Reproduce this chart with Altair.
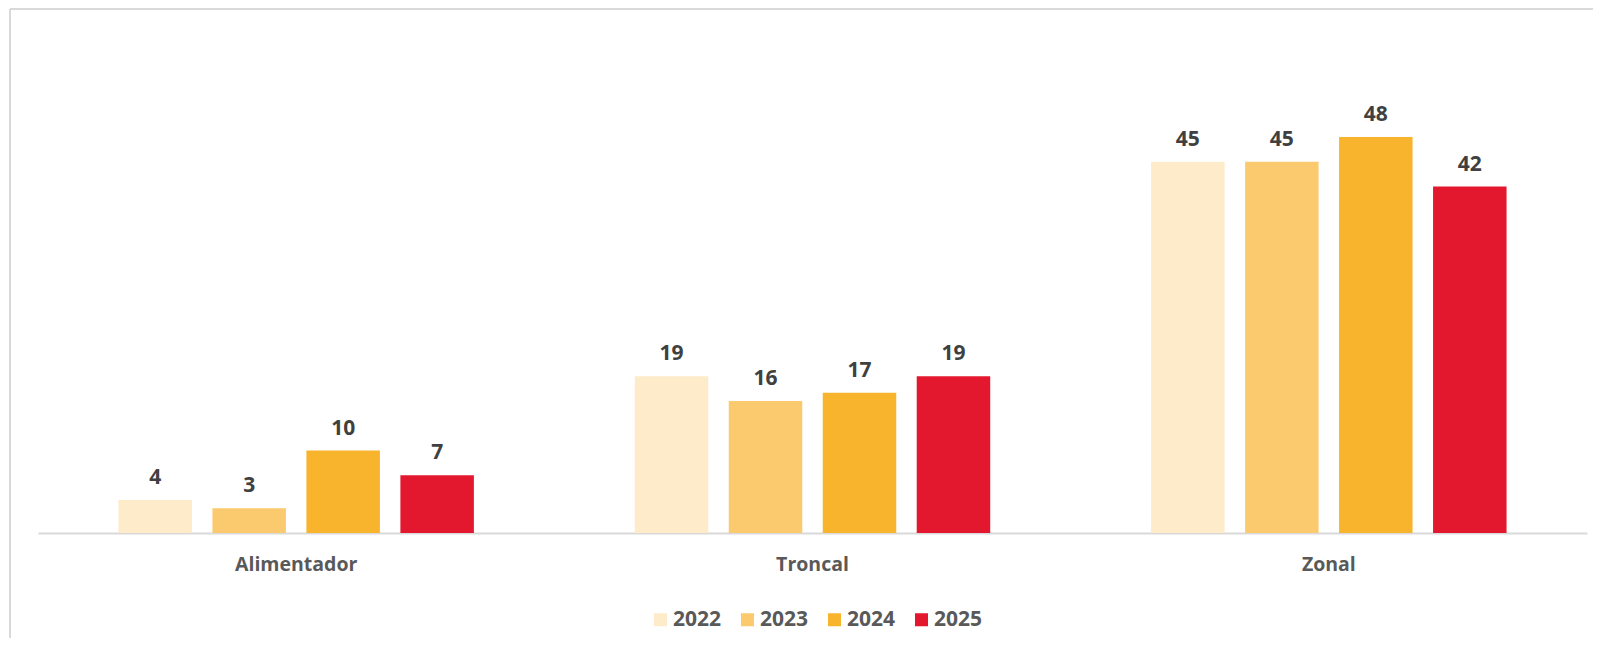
import altair as alt
import pandas as pd

categories = ["Alimentador", "Troncal", "Zonal"]
years = ["2022", "2023", "2024", "2025"]
v2022 = [4, 19, 45]
v2023 = [3, 16, 45]
v2024 = [10, 17, 48]
v2025 = [7, 19, 42]
colors = ["#FDEBC9", "#FBCA6E", "#F8B42C", "#E3172E"]

series = {"2022": v2022, "2023": v2023, "2024": v2024, "2025": v2025}
rows = []
for y in years:
    for c, v in zip(categories, series[y]):
        rows.append({"cat": c, "year": y, "value": v})
df = pd.DataFrame(rows)

FONT = "Open Sans"

base = alt.Chart(df).encode(
    x=alt.X("cat:N", sort=categories, title=None,
            scale=alt.Scale(paddingInner=0, paddingOuter=0),
            axis=alt.Axis(labelAngle=0, ticks=False, domainColor="#D9D9D9",
                          domainWidth=2, labelFont=FONT, labelFontSize=19.5,
                          labelFontWeight="bold", labelColor="#595959",
                          labelPadding=22, grid=False)),
    xOffset=alt.XOffset("year:N", sort=years,
                        scale=alt.Scale(paddingInner=0.218, paddingOuter=0.856)),
    y=alt.Y("value:Q", scale=alt.Scale(domain=[0, 60]), axis=None),
)

bars = base.mark_bar().encode(
    color=alt.Color("year:N", sort=years,
                    scale=alt.Scale(domain=years, range=colors),
                    legend=alt.Legend(orient="none", legendX=612, legendY=571,
                                      direction="horizontal", padding=0,
                                      title=None, symbolType="square",
                                      symbolSize=169, symbolStrokeWidth=0,
                                      labelFont=FONT, labelFontSize=21,
                                      labelFontWeight="bold",
                                      labelColor="#595959", columnPadding=15,
                                      symbolOffset=0, labelOffset=2))
)

labels = base.mark_text(baseline="alphabetic", dy=-16, font=FONT, fontSize=21,
                        fontWeight="bold", color="#404040").encode(
    text=alt.Text("value:Q")
)

frame_data = alt.Data(values=[{"k": 1}])
top_rule = alt.Chart(frame_data).mark_rule(color="#D9D9D9", strokeWidth=2).encode(
    x=alt.value(-28), x2=alt.value(1600), y=alt.value(-29)
)
left_rule = alt.Chart(frame_data).mark_rule(color="#D9D9D9", strokeWidth=2).encode(
    x=alt.value(-28), y=alt.value(-29), y2=alt.value(700)
)

chart = alt.layer(bars, labels, top_rule, left_rule).properties(
    width=1549, height=495,
    background="white",
    autosize=alt.AutoSizeParams(type="none"),
    padding={"left": 30, "top": 30, "right": 6, "bottom": 105},
).configure_view(strokeWidth=0)

chart.save("out.html", embed_options={"renderer": "svg", "actions": False})
